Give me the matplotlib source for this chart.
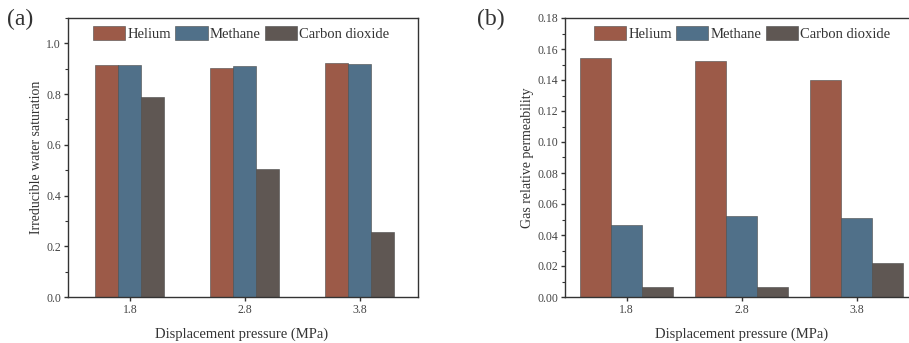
import numpy as np
import matplotlib
matplotlib.use('Agg')
import matplotlib.pyplot as plt
from matplotlib.ticker import MultipleLocator, FormatStrFormatter

plt.rcParams['font.family'] = ['Liberation Serif', 'DejaVu Serif']

pressures = [1.8, 2.8, 3.8]
gases = ['Helium', 'Methane', 'Carbon dioxide']
colors = ['#9c5a48', '#507089', '#5f5753']

# irreducible water saturation (a)
swi_helium = [0.914, 0.901, 0.921]
swi_methane = [0.915, 0.909, 0.920]
swi_co2 = [0.788, 0.505, 0.256]

# gas relative permeability (b)
krg_helium = [0.1541, 0.152, 0.1397]
krg_methane = [0.0462, 0.052, 0.0509]
krg_co2 = [0.0066, 0.0062, 0.0217]

W, H = 909, 343
fig = plt.figure(figsize=(W / 100, H / 100), dpi=100)

ax_a = fig.add_axes([68 / W, 1 - 297 / H, 350 / W, 279 / H])
# panel (b) runs off the right edge of the picture, like in the source
ax_b = fig.add_axes([565 / W, 1 - 297 / H, 380 / W, 279 / H])

x = np.array(pressures)


def draw(ax, series, width, xlim, ylim, major, ylabel, lpad, midx):
    for i, (vals, c, name) in enumerate(zip(series, colors, gases)):
        ax.bar(x + (i - 1) * width, vals, width, color=c, edgecolor='#4a4a4a',
               linewidth=0.4, label=name)
    ax.set_xlim(*xlim)
    ax.set_ylim(*ylim)
    ax.set_xticks(pressures)
    ax.set_xticklabels([str(p) for p in pressures])
    ax.yaxis.set_major_locator(MultipleLocator(major))
    ax.yaxis.set_minor_locator(MultipleLocator(major / 2))
    ax.tick_params(axis='both', which='major', direction='out', length=3,
                   width=1, labelsize=8.5, colors='#333333', labelcolor='#444444',
                   pad=2)
    ax.tick_params(axis='y', which='minor', direction='out', length=2,
                   width=0.8, colors='#333333')
    for s in ax.spines.values():
        s.set_color('#333333')
        s.set_linewidth(1.0)
    ax.set_xlabel('Displacement pressure (MPa)', fontsize=10.5, color='#333333',
                  labelpad=8, x=midx)
    ax.set_ylabel(ylabel, fontsize=10, color='#333333', labelpad=lpad)
    ax.legend(loc='upper center', bbox_to_anchor=(midx, 1.0), ncol=3,
              frameon=False, fontsize=10.5, handlelength=2.2, handleheight=1.15,
              handletextpad=0.15, columnspacing=0.3, borderaxespad=0.15,
              labelcolor='#333333')


draw(ax_a, [swi_helium, swi_methane, swi_co2], 0.2, (1.262, 4.305), (0, 1.1),
     0.2, 'Irreducible water saturation', 2.5, 0.495)
ax_a.yaxis.set_major_formatter(FormatStrFormatter('%.1f'))
draw(ax_b, [krg_helium, krg_methane, krg_co2], 0.27, (1.264, 1.264 + 380 / 115),
     (0, 0.18), 0.02, 'Gas relative permeability', 2, 177 / 380)
ax_b.yaxis.set_major_formatter(FormatStrFormatter('%.2f'))

fig.text(7 / W, 1 - 19 / H, '(a)', fontsize=17, color='#333333', va='center')
fig.text(477 / W, 1 - 19 / H, '(b)', fontsize=17, color='#333333', va='center')

fig.savefig('out.png', dpi=100)
